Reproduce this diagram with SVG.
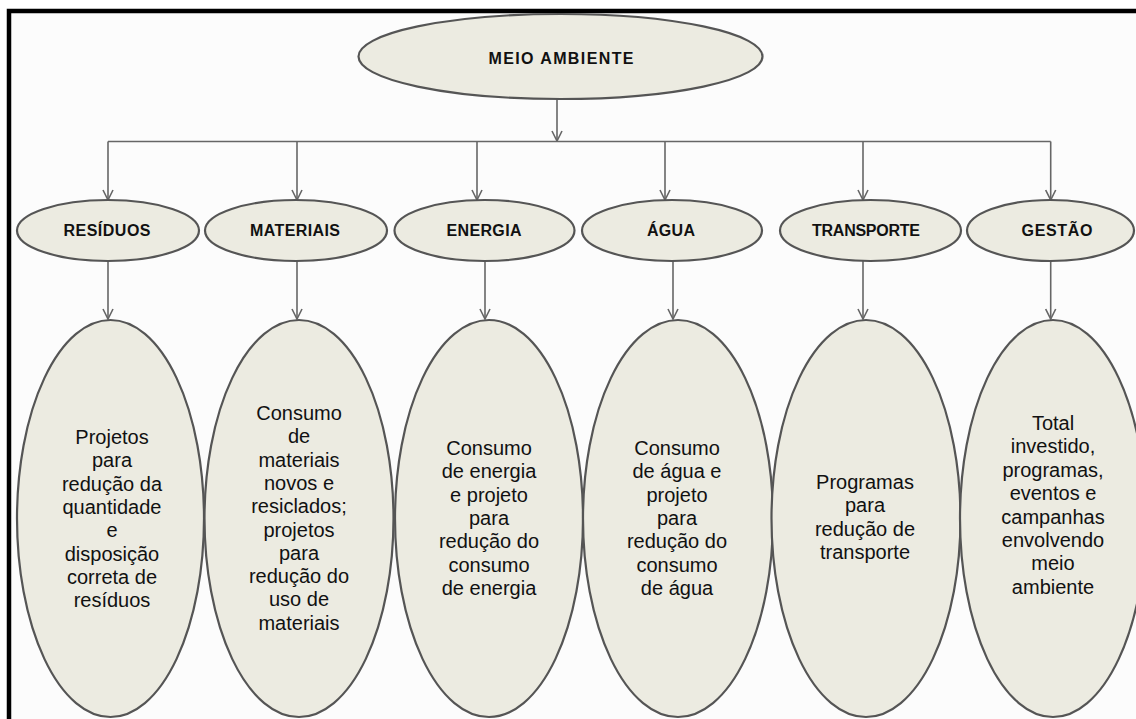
<svg xmlns="http://www.w3.org/2000/svg" width="1136" height="719" viewBox="0 0 1136 719">
<style>
.node{fill:#ecebe1;stroke:#555;stroke-width:2.2}
.conn{fill:none;stroke:#666;stroke-width:1.6}
.h{font-family:"Liberation Sans",Arial,sans-serif;font-weight:bold;font-size:16px;fill:#111;text-anchor:middle}
.b{font-family:"Liberation Sans",Arial,sans-serif;font-size:20px;fill:#111;text-anchor:middle}
</style>
<defs>
<marker id="arr" viewBox="0 0 12 12" refX="11" refY="6" markerWidth="12" markerHeight="12" markerUnits="userSpaceOnUse" orient="auto">
<path d="M1,1 L11,6 L1,11" fill="none" stroke="#666" stroke-width="1.6"/>
</marker>
</defs>
<rect x="0" y="0" width="1136" height="719" fill="#ffffff"/>
<rect x="9" y="11" width="1140" height="720" fill="#fcfcfc" stroke="#000" stroke-width="4.5"/>
<g id="connectors">
<path class="conn" d="M557,99 V141" marker-end="url(#arr)"/>
<path class="conn" d="M108,141.5 H1050.7"/>
<path class="conn" d="M108,141.5 V200" marker-end="url(#arr)"/>
<path class="conn" d="M297,141.5 V200" marker-end="url(#arr)"/>
<path class="conn" d="M477,141.5 V200" marker-end="url(#arr)"/>
<path class="conn" d="M665,141.5 V200" marker-end="url(#arr)"/>
<path class="conn" d="M863,141.5 V200" marker-end="url(#arr)"/>
<path class="conn" d="M1050.7,141.5 V200" marker-end="url(#arr)"/>
<path class="conn" d="M108,261 V319" marker-end="url(#arr)"/>
<path class="conn" d="M297,261 V319" marker-end="url(#arr)"/>
<path class="conn" d="M485,261 V319" marker-end="url(#arr)"/>
<path class="conn" d="M673,261 V319" marker-end="url(#arr)"/>
<path class="conn" d="M863,261 V319" marker-end="url(#arr)"/>
<path class="conn" d="M1050.7,261 V319" marker-end="url(#arr)"/>
</g>
<g id="meio-ambiente">
<ellipse class="node" cx="560.5" cy="56.5" rx="202" ry="42.5"/>
<text class="h" x="561" y="63.5" textLength="145" lengthAdjust="spacing">MEIO AMBIENTE</text>
</g>
<g id="residuos">
<ellipse class="node" cx="108" cy="230.5" rx="91" ry="30.5"/>
<text class="h" x="107" y="235.5" textLength="87" lengthAdjust="spacing">RESÍDUOS</text>
</g>
<g id="materiais">
<ellipse class="node" cx="296" cy="230.5" rx="91" ry="30.5"/>
<text class="h" x="295" y="235.5" textLength="90" lengthAdjust="spacing">MATERIAIS</text>
</g>
<g id="energia">
<ellipse class="node" cx="484.5" cy="230.5" rx="90" ry="30.5"/>
<text class="h" x="484" y="235.5" textLength="75" lengthAdjust="spacing">ENERGIA</text>
</g>
<g id="agua">
<ellipse class="node" cx="672" cy="230.5" rx="90" ry="30.5"/>
<text class="h" x="671" y="235.5" textLength="48" lengthAdjust="spacing">ÁGUA</text>
</g>
<g id="transporte">
<ellipse class="node" cx="870.5" cy="230.5" rx="90.5" ry="30.5"/>
<text class="h" x="866" y="235.5" textLength="108" lengthAdjust="spacing">TRANSPORTE</text>
</g>
<g id="gestao">
<ellipse class="node" cx="1050.5" cy="230.5" rx="83.5" ry="30.5"/>
<text class="h" x="1057" y="235.5" textLength="71" lengthAdjust="spacing">GESTÃO</text>
</g>
<g id="residuos-desc">
<ellipse class="node" cx="110.5" cy="518.5" rx="93.5" ry="198.5"/>
<text class="b" x="112" y="444"><tspan x="112">Projetos</tspan><tspan x="112" dy="23.3">para</tspan><tspan x="112" dy="23.3">redução da</tspan><tspan x="112" dy="23.3">quantidade</tspan><tspan x="112" dy="23.3">e</tspan><tspan x="112" dy="23.3">disposição</tspan><tspan x="112" dy="23.3">correta de</tspan><tspan x="112" dy="23.3">resíduos</tspan></text>
</g>
<g id="materiais-desc">
<ellipse class="node" cx="299" cy="518.5" rx="94.5" ry="198.5"/>
<text class="b" x="299" y="420"><tspan x="299">Consumo</tspan><tspan x="299" dy="23.3">de</tspan><tspan x="299" dy="23.3">materiais</tspan><tspan x="299" dy="23.3">novos e</tspan><tspan x="299" dy="23.3">resiclados;</tspan><tspan x="299" dy="23.3">projetos</tspan><tspan x="299" dy="23.3">para</tspan><tspan x="299" dy="23.3">redução do</tspan><tspan x="299" dy="23.3">uso de</tspan><tspan x="299" dy="23.3">materiais</tspan></text>
</g>
<g id="energia-desc">
<ellipse class="node" cx="489" cy="518.5" rx="94" ry="198.5"/>
<text class="b" x="489" y="455"><tspan x="489">Consumo</tspan><tspan x="489" dy="23.3">de energia</tspan><tspan x="489" dy="23.3">e projeto</tspan><tspan x="489" dy="23.3">para</tspan><tspan x="489" dy="23.3">redução do</tspan><tspan x="489" dy="23.3">consumo</tspan><tspan x="489" dy="23.3">de energia</tspan></text>
</g>
<g id="agua-desc">
<ellipse class="node" cx="678" cy="518.5" rx="95" ry="198.5"/>
<text class="b" x="677" y="455"><tspan x="677">Consumo</tspan><tspan x="677" dy="23.3">de água  e</tspan><tspan x="677" dy="23.3">projeto</tspan><tspan x="677" dy="23.3">para</tspan><tspan x="677" dy="23.3">redução do</tspan><tspan x="677" dy="23.3">consumo</tspan><tspan x="677" dy="23.3">de água</tspan></text>
</g>
<g id="transporte-desc">
<ellipse class="node" cx="866" cy="518.5" rx="94.5" ry="198.5"/>
<text class="b" x="865" y="489"><tspan x="865">Programas</tspan><tspan x="865" dy="23.3">para</tspan><tspan x="865" dy="23.3">redução de</tspan><tspan x="865" dy="23.3">transporte</tspan></text>
</g>
<g id="gestao-desc">
<ellipse class="node" cx="1053" cy="518.5" rx="93" ry="198.5"/>
<text class="b" x="1053" y="430"><tspan x="1053">Total</tspan><tspan x="1053" dy="23.4">investido,</tspan><tspan x="1053" dy="23.4">programas,</tspan><tspan x="1053" dy="23.4">eventos e</tspan><tspan x="1053" dy="23.4">campanhas</tspan><tspan x="1053" dy="23.4">envolvendo</tspan><tspan x="1053" dy="23.4">meio</tspan><tspan x="1053" dy="23.4">ambiente</tspan></text>
</g>
</svg>
